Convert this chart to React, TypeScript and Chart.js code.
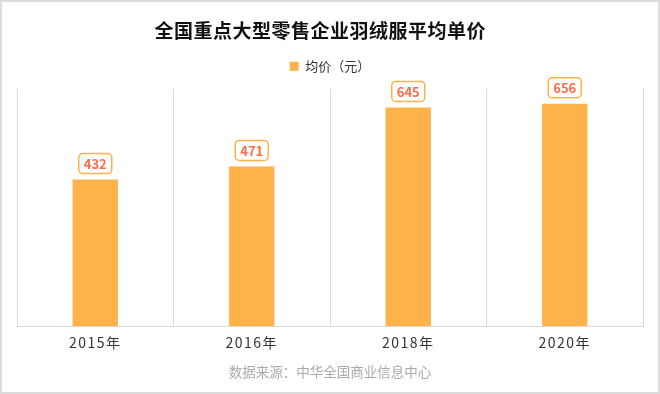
import React, { useEffect, useRef } from "react";
import { Chart, registerables } from "chart.js";

Chart.register(...registerables);

const categories = ["2015年", "2016年", "2018年", "2020年"];
const prices = [432, 471, 645, 656];
const seriesLabel = "均价（元）";
const titleText = "全国重点大型零售企业羽绒服平均单价";
const sourceText = "数据来源：中华全国商业信息中心";

const FONT = "'Noto Sans CJK SC', 'Noto Sans', sans-serif";
const BAR = "#FFB24A";

const framePlugin = {
  id: "frame",
  beforeDraw(chart: any) {
    const { ctx, width, height } = chart;
    ctx.save();
    ctx.fillStyle = "#ffffff";
    ctx.fillRect(0, 0, width, height);
    ctx.restore();
  },
  afterDraw(chart: any) {
    const { ctx, width, height } = chart;
    ctx.save();
    ctx.strokeStyle = "#dcdcdc";
    ctx.lineWidth = 2;
    ctx.strokeRect(1, 1, width - 2, height - 2);
    ctx.restore();
  },
};

const layoutTweaks = {
  id: "layoutTweaks",
  beforeLayout(chart: any) {
    const lg = chart.legend;
    if (lg && !lg.__patched) {
      const origFit = lg.fit.bind(lg);
      lg.fit = () => {
        origFit();
        lg.height += 6;
      };
      lg.__patched = true;
    }
  },
  afterLayout(chart: any) {
    const sc = chart.scales.x;
    if (sc && !sc.__patched) {
      const orig = sc.drawLabels.bind(sc);
      sc.drawLabels = (area: any) => {
        const c = chart.ctx;
        const prev = c.letterSpacing;
        c.letterSpacing = "1.5px";
        orig(area);
        c.letterSpacing = prev || "0px";
      };
      sc.__patched = true;
    }
    const t = chart.titleBlock;
    if (t && !t.__patched) {
      const origDraw = t.draw.bind(t);
      t.draw = () => {
        const c = chart.ctx;
        const prev = c.letterSpacing;
        c.letterSpacing = "0.5px";
        origDraw();
        c.letterSpacing = prev || "0px";
      };
      t.__patched = true;
    }
  },
};

const labelPlugin = {
  id: "valueBoxes",
  afterDatasetsDraw(chart: any) {
    const { ctx } = chart;
    const meta = chart.getDatasetMeta(0);
    ctx.save();
    ctx.font = `bold 13px ${FONT}`;
    ctx.textAlign = "center";
    ctx.textBaseline = "middle";
    meta.data.forEach((bar: any, i: number) => {
      const text = String(chart.data.datasets[0].data[i]);
      const w = ctx.measureText(text).width + 10;
      const h = 20;
      const x = bar.x - w / 2;
      const y = bar.y - 6 - h;
      ctx.beginPath();
      ctx.roundRect(x, y, w, h, 4);
      ctx.fillStyle = "#ffffff";
      ctx.fill();
      ctx.lineWidth = 1.5;
      ctx.strokeStyle = "#FFB24A";
      ctx.stroke();
      ctx.fillStyle = "#FF6B45";
      ctx.fillText(text, bar.x, y + h / 2 + 0.5);
    });
    ctx.restore();
  },
};

export default function App() {
  const ref = useRef<HTMLCanvasElement>(null);

  useEffect(() => {
    document.body.style.margin = "0";
    const chart = new Chart(ref.current!, {
      type: "bar",
      data: {
        labels: categories,
        datasets: [
          {
            label: seriesLabel,
            data: prices,
            backgroundColor: BAR,
            borderWidth: 0,
            barPercentage: 0.29,
            categoryPercentage: 1,
          },
        ],
      },
      options: {
        animation: false,
        responsive: false,
        maintainAspectRatio: false,
        layout: { padding: { top: 0, left: 17, right: 17, bottom: 14 } },
        scales: {
          x: {
            grid: { color: "#dadada", lineWidth: 1, offset: true, drawTicks: false },
            border: { color: "#dadada", width: 1 },
            ticks: { color: "#333333", font: { family: FONT, size: 14 }, padding: 8 },
          },
          y: {
            display: false,
            min: 0,
            max: 700,
          },
        },
        plugins: {
          title: {
            display: true,
            text: titleText + "\u3000",
            color: "#111111",
            font: { family: FONT, size: 19, weight: "bold" },
            padding: { top: 19, bottom: 8 },
          },
          subtitle: {
            display: true,
            position: "bottom",
            text: sourceText,
            color: "#aaaaaa",
            font: { family: FONT, size: 13.5 },
            padding: { top: 5, bottom: 0 },
          },
          legend: {
            display: true,
            labels: {
              color: "#333333",
              font: { family: FONT, size: 13 },
              boxWidth: 9,
              boxHeight: 9,
              padding: 10,
            },
          },
          tooltip: { enabled: false },
        },
      },
      plugins: [framePlugin, layoutTweaks, labelPlugin],
    });
    return () => chart.destroy();
  }, []);

  return (
    <div style={{ width: 660, height: 394 }}>
      <canvas ref={ref} width={660} height={394} style={{ display: "block" }} />
    </div>
  );
}
